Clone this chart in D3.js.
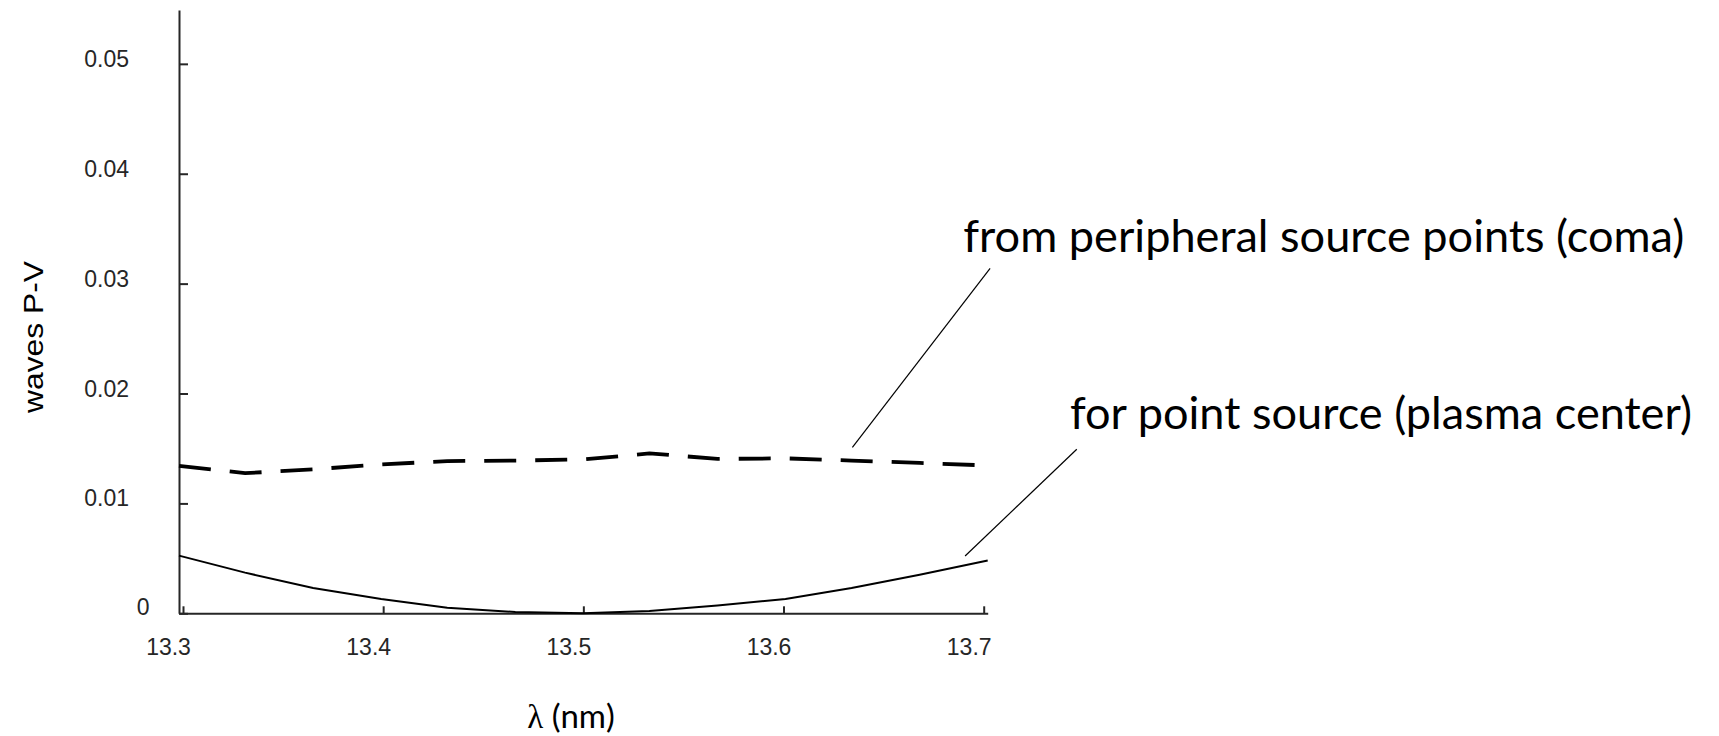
<!DOCTYPE html>
<html>
<head>
<meta charset="utf-8">
<script src="https://cdn.jsdelivr.net/npm/d3@7/dist/d3.min.js"></script>
<style>
  html, body { margin: 0; padding: 0; background: #ffffff; }
  svg { display: block; }
</style>
</head>
<body>
<svg id="chart" width="1719" height="736"></svg>
<script>
// Wavelength samples (nm)
const wavelength = [13.298, 13.331, 13.365, 13.399, 13.432, 13.466, 13.500,
                    13.533, 13.567, 13.601, 13.634, 13.668, 13.702];
// Wavefront error, waves peak-to-valley
const pointSource = [0.00525, 0.0037, 0.0023, 0.0013, 0.0005, 0.00012, 0.0,
                     0.0002, 0.0007, 0.0013, 0.0023, 0.0035, 0.0048];
const peripheral  = [0.01342, 0.01275, 0.0131, 0.01355, 0.01385, 0.0139, 0.0140,
                     0.01455, 0.01405, 0.0141, 0.0139, 0.01368, 0.01345];

const xTicks = [13.3, 13.4, 13.5, 13.6, 13.7];
const yTicks = [0, 0.01, 0.02, 0.03, 0.04, 0.05];
const yTop = 0.0549;

// Callouts: label text, label anchor, leader start/end (data units)
const calloutText  = ["from peripheral source points (coma)", "for point source (plasma center)"];
const calloutLabel = [[13.6898, 0.03288], [13.7431, 0.016771]];
const leaderFrom   = [[13.7032, 0.031395], [13.7465, 0.014924]];
const leaderTo     = [[13.6344, 0.015106], [13.6907, 0.005214]];
const calloutWidth = [721, 622];

const svg = d3.select("#chart");
const axisColor = "#262626";

const x = d3.scaleLinear().domain(d3.extent(wavelength)).range([179, 987.7]);
const y = d3.scaleLinear().domain([0, yTop]).range([613.3, 10]);

// x axis
const gx = svg.append("g")
  .attr("transform", `translate(0,${y(0)})`)
  .call(d3.axisBottom(x).tickValues(xTicks).tickSizeInner(-7).tickSizeOuter(0)
        .tickFormat(d3.format(".1f")));
gx.select(".domain").attr("stroke", axisColor).attr("stroke-width", 2);
gx.selectAll(".tick line").attr("stroke", axisColor).attr("stroke-width", 2);
gx.selectAll(".tick text")
  .attr("x", -15).attr("y", 41.7).attr("dy", 0)
  .attr("fill", axisColor)
  .style("font-family", "'Liberation Sans', Arial, sans-serif")
  .style("font-size", "23px");

// y axis
const gy = svg.append("g")
  .attr("transform", `translate(${x.range()[0]},0)`)
  .call(d3.axisLeft(y).tickValues(yTicks).tickSizeInner(-9).tickSizeOuter(0)
        .tickFormat(d => d === 0 ? "0" : d3.format(".2f")(d)));
gy.select(".domain").attr("stroke", axisColor).attr("stroke-width", 2);
gy.selectAll(".tick line").attr("stroke", axisColor).attr("stroke-width", 2);
gy.selectAll(".tick text")
  .attr("x", d => d === 0 ? -29.5 : -50)
  .attr("y", 0)
  .attr("dy", d => d === 0 ? 0.7 : 2.5)
  .attr("text-anchor", "end")
  .attr("fill", axisColor)
  .style("font-family", "'Liberation Sans', Arial, sans-serif")
  .style("font-size", "23px");

// data lines
const line = d3.line().x(d => x(d[0])).y(d => y(d[1]));

svg.append("path")
  .datum(d3.zip(wavelength, peripheral))
  .attr("d", line)
  .attr("fill", "none")
  .attr("stroke", "#000")
  .attr("stroke-width", 3.8)
  .attr("stroke-dasharray", "32,19");

svg.append("path")
  .datum(d3.zip(wavelength, pointSource))
  .attr("d", line)
  .attr("fill", "none")
  .attr("stroke", "#000")
  .attr("stroke-width", 2);

// callouts
calloutText.forEach((t, i) => {
  svg.append("line")
    .attr("x1", x(leaderFrom[i][0])).attr("y1", y(leaderFrom[i][1]))
    .attr("x2", x(leaderTo[i][0])).attr("y2", y(leaderTo[i][1]))
    .attr("stroke", "#000").attr("stroke-width", 1.2);
  svg.append("text")
    .attr("x", x(calloutLabel[i][0])).attr("y", y(calloutLabel[i][1]))
    .attr("textLength", calloutWidth[i])
    .attr("lengthAdjust", "spacingAndGlyphs")
    .attr("fill", "#000")
    .style("font-family", "Lato, 'Open Sans', sans-serif")
    .style("font-size", "45px")
    .text(t);
});

// axis titles
svg.append("text")
  .attr("transform", "translate(43,337) rotate(-90)")
  .attr("text-anchor", "middle")
  .attr("textLength", 152)
  .attr("lengthAdjust", "spacingAndGlyphs")
  .attr("fill", "#000")
  .style("font-family", "'Liberation Sans', Arial, sans-serif")
  .style("font-size", "28px")
  .text("waves P-V");

const xt = svg.append("text")
  .attr("x", 571).attr("y", 728)
  .attr("text-anchor", "middle")
  .attr("fill", "#000")
  .style("font-size", "33px");
xt.append("tspan").style("font-family", "'Liberation Serif', serif").text("λ");
xt.append("tspan").style("font-family", "Lato, 'Open Sans', sans-serif").text(" (nm)");
</script>
</body>
</html>
